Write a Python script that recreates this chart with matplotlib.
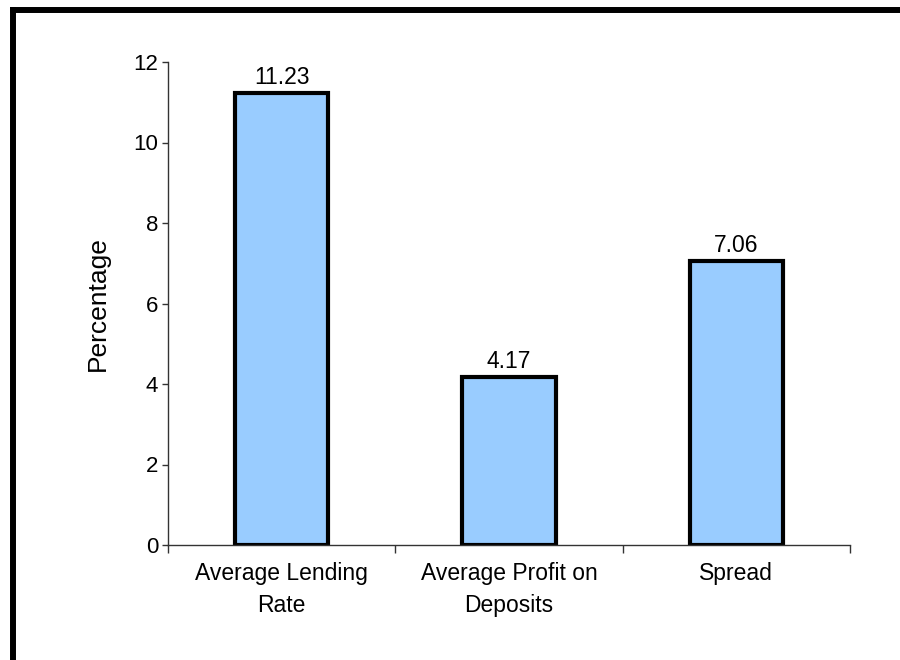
import matplotlib
matplotlib.use("Agg")
import matplotlib.pyplot as plt
from matplotlib.lines import Line2D

categories = ["Average Lending\nRate", "Average Profit on\nDeposits", "Spread"]
values = [11.23, 4.17, 7.06]
value_labels = ["11.23", "4.17", "7.06"]
yticks = [0, 2, 4, 6, 8, 10, 12]

plt.rcParams['font.family'] = ['Liberation Sans', 'DejaVu Sans']

fig = plt.figure(figsize=(9, 6.6), dpi=100)
ax = fig.add_axes([168/900, 1-545/660, (850-168)/900, (545-62)/660])

x = list(range(len(categories)))
bars = ax.bar(x, values, width=0.41, color="#99CCFF", edgecolor="black", linewidth=3)

for xi, v, lab in zip(x, values, value_labels):
    ax.annotate(lab, (xi, v), xytext=(0, 3), textcoords="offset points",
                ha="center", va="bottom", fontsize=16.5)

ax.set_xlim(-0.5, len(categories) - 0.5)
ax.set_ylim(0, 12)
ax.set_yticks(yticks)
ax.set_yticklabels([str(t) for t in yticks], fontsize=16)
ax.tick_params(axis="y", direction="out", length=4, width=1, color="#333333", pad=3)

ax.set_xticks([i - 0.5 for i in range(len(categories) + 1)])
ax.set_xticklabels([])
ax.tick_params(axis="x", direction="out", length=6, width=1, color="#333333")
for xi, cat in zip(x, categories):
    ax.text(xi, -0.42, cat, ha="center", va="top", fontsize=16.5,
            linespacing=1.5, transform=ax.transData)

ax.set_ylabel("Percentage", fontsize=19, labelpad=17)

for s in ["top", "right"]:
    ax.spines[s].set_visible(False)
for s in ["left", "bottom"]:
    ax.spines[s].set_color("#333333")
    ax.spines[s].set_linewidth(1)

# outer frame (only top and left edges visible)
fig.add_artist(Line2D([12.5/900, 12.5/900], [0, 1-9.5/660], color="black", linewidth=4.3,
                      transform=fig.transFigure, solid_capstyle="projecting"))
fig.add_artist(Line2D([12.5/900, 1], [1-9.5/660, 1-9.5/660], color="black", linewidth=4.3,
                      transform=fig.transFigure, solid_capstyle="projecting"))

fig.savefig("out.png", dpi=100, facecolor="white")
